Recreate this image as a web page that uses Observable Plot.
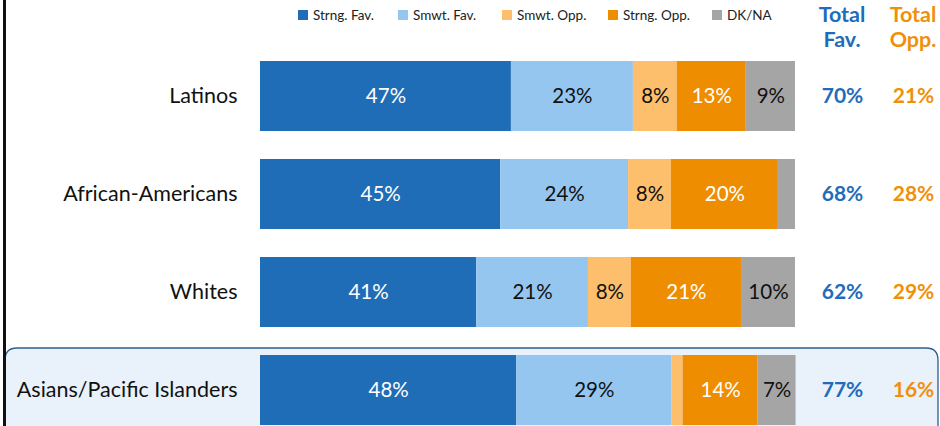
<!DOCTYPE html>
<html><head><meta charset="utf-8">
<script src="https://cdn.jsdelivr.net/npm/d3@7"></script>
<script src="https://cdn.jsdelivr.net/npm/@observablehq/plot@0.6"></script>
<style>
body{margin:0;background:#fff;font-family:Lato,"Open Sans",sans-serif;}
#wrap{position:relative;width:940px;height:426px;overflow:hidden;}
#edge{position:absolute;left:3px;top:0;width:3px;height:426px;background:#111;}
.leg{position:absolute;top:7px;font-size:13.5px;color:#222;display:flex;align-items:center;white-space:nowrap;}
.leg i{display:inline-block;width:10px;height:10px;margin-right:5px;}
.head{position:absolute;top:2px;width:80px;text-align:center;font-weight:bold;font-size:21.5px;line-height:25px;}
</style></head><body>
<div id="wrap"><div id="chart"></div><div id="edge"></div></div>
<script>
const groups = ["Latinos", "African-Americans", "Whites", "Asians/Pacific Islanders"];
const series = ["Strng. Fav.", "Smwt. Fav.", "Smwt. Opp.", "Strng. Opp.", "DK/NA"];
const colors = ["#1f6db7", "#95c6ef", "#fdbf6b", "#ef8d00", "#a5a5a5"];
const strngFav = [46.9, 44.9, 40.4, 47.9];
const smwtFav  = [22.8, 23.9, 20.9, 29.0];
const smwtOpp  = [8.2, 8.0, 8.0, 2.1];
const strngOpp = [12.9, 20.0, 20.6, 14.0];
const dkna     = [9.2, 3.2, 10.1, 7.1];
const strngFavLbl = ["47%", "45%", "41%", "48%"];
const smwtFavLbl  = ["23%", "24%", "21%", "29%"];
const smwtOppLbl  = ["8%", "8%", "8%", ""];
const strngOppLbl = ["13%", "20%", "21%", "14%"];
const dknaLbl     = ["9%", "", "10%", "7%"];
const totalFav = ["70%", "68%", "62%", "77%"];
const totalOpp = ["21%", "28%", "29%", "16%"];
const headers = [["Total", "Fav."], ["Total", "Opp."]];

const valueSets = [strngFav, smwtFav, smwtOpp, strngOpp, dkna];
const labelSets = [strngFavLbl, smwtFavLbl, smwtOppLbl, strngOppLbl, dknaLbl];
const rows = [];
groups.forEach((g, i) => series.forEach((s, j) => rows.push({group: g, series: s, si: j, value: valueSets[j][i], label: labelSets[j][i]})));
const totals = groups.map((g, i) => ({group: g, fav: totalFav[i], opp: totalOpp[i]}));
const darkText = new Set([0, 3]);
const favColor = "#1f6dba", oppColor = "#f0900a";
const favDx = 47, oppDx = 118;

const plot = Plot.plot({
  width: 940, height: 426,
  marginLeft: 260, marginRight: 145, marginTop: 61, marginBottom: 1,
  style: {background: "transparent", fontFamily: "Lato, 'Open Sans', sans-serif", overflow: "visible", color: "#111"},
  x: {domain: [0, 100], axis: null},
  y: {domain: groups, paddingInner: 28/98, paddingOuter: 0, label: null},
  color: {domain: series, range: colors},
  marks: [
    Plot.barX(rows, Plot.stackX({x: "value", y: "group", fill: "series", order: series})),
    Plot.text(rows, Plot.stackX({x: "value", y: "group", z: "series", order: series,
      text: d => darkText.has(d.si) ? d.label : "", fill: "white", fontSize: 20.5})),
    Plot.text(rows, Plot.stackX({x: "value", y: "group", z: "series", order: series,
      text: d => darkText.has(d.si) ? "" : d.label, fill: "#111", fontSize: 20.5})),
    Plot.text(totals, {x: 100, y: "group", text: "fav", dx: favDx, fill: favColor, fontSize: 21, fontWeight: "bold"}),
    Plot.text(totals, {x: 100, y: "group", text: "opp", dx: oppDx, fill: oppColor, fontSize: 21, fontWeight: "bold"}),
    Plot.axisY({tickSize: 0, tickPadding: 23, fontSize: 21.5, label: null}),
  ]
});
document.getElementById("chart").appendChild(plot);

const svg = d3.select(plot);
const xs = plot.scale("x"), ys = plot.scale("y");

// highlight box behind last row
const lastRow = groups[groups.length - 1];
const boxTop = ys.apply(lastRow) - 7, rad = 12, bx0 = 5, bx1 = 938, bBot = 440;
svg.insert("path", ":first-child")
  .attr("d", `M${bx0},${bBot}V${boxTop + rad}Q${bx0},${boxTop} ${bx0 + rad},${boxTop}H${bx1 - rad}Q${bx1},${boxTop} ${bx1},${boxTop + rad}V${bBot}`)
  .attr("fill", "#e9f1fa").attr("stroke", "#2f5f8f").attr("stroke-width", 1.3);

// legend
const wrap = document.getElementById("wrap");
const legLeft = [298, 398, 502, 608, 712];
series.forEach((s, j) => {
  const d = document.createElement("div");
  d.className = "leg"; d.style.left = legLeft[j] + "px";
  d.innerHTML = `<i style="background:${colors[j]}"></i>${s}`;
  wrap.appendChild(d);
});
// headers
const headCenters = [xs.apply(100) + favDx, xs.apply(100) + oppDx];
headers.forEach((h, k) => {
  const d = document.createElement("div");
  d.className = "head"; d.style.left = (headCenters[k] - 40) + "px";
  d.style.color = k === 0 ? favColor : oppColor;
  d.innerHTML = h.join("<br>");
  wrap.appendChild(d);
});
</script>
</body></html>
